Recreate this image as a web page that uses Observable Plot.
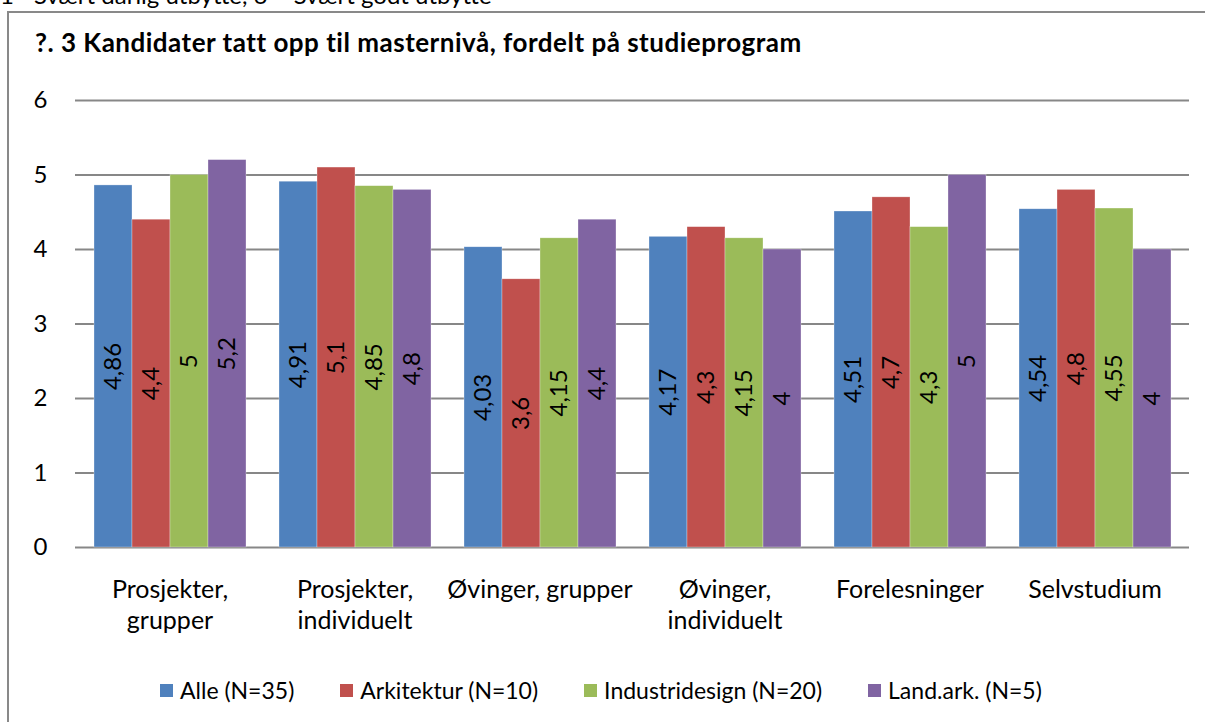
<!DOCTYPE html>
<html>
<head>
<meta charset="utf-8">
<script src="https://cdn.jsdelivr.net/npm/d3@7"></script>
<script src="https://cdn.jsdelivr.net/npm/@observablehq/plot@0.6"></script>
<style>
  html, body { margin: 0; padding: 0; width: 1205px; height: 722px; overflow: hidden; background: #fff; font-family: Lato, "Open Sans", sans-serif; }
  #top { position: absolute; left: 0; top: -17px; font-size: 24px; line-height: 24px; white-space: nowrap; color: #000; }
  #frame { position: absolute; left: 7px; top: 11px; width: 1300px; height: 800px; border: 2px solid #898989; box-sizing: border-box; }
  #title { position: absolute; left: 35px; top: 29px; font-size: 26px; letter-spacing: 0.5px; font-weight: bold; white-space: nowrap; color: #000; line-height: 26px; }
  .layer { position: absolute; left: 0; top: 70px; }
  #legend { position: absolute; left: 160px; top: 676px; display: flex; gap: 46px; font-size: 23px; line-height: 28px; white-space: nowrap; }
  .item { display: flex; align-items: center; gap: 7px; }
  .sw { width: 13px; height: 13px; display: inline-block; }
</style>
</head>
<body>
<div id="top">1= Svært dårlig utbytte, 6 = Svært godt utbytte</div>
<div id="frame"></div>
<div id="title">?. 3 Kandidater tatt opp til masternivå, fordelt på studieprogram</div>
<div id="grid" class="layer"></div>
<div id="chart" class="layer"></div>
<div id="legend"></div>
<script>
const categories = ["Prosjekter, grupper", "Prosjekter, individuelt", "Øvinger, grupper", "Øvinger, individuelt", "Forelesninger", "Selvstudium"];
const tickLabels = ["Prosjekter,\ngrupper", "Prosjekter,\nindividuelt", "Øvinger, grupper", "Øvinger,\nindividuelt", "Forelesninger", "Selvstudium"];
const series = ["Alle (N=35)", "Arkitektur (N=10)", "Industridesign (N=20)", "Land.ark. (N=5)"];
const colors = ["#4F81BD", "#C0504D", "#9BBB59", "#8064A2"];
const alle = [4.86, 4.91, 4.03, 4.17, 4.51, 4.54];
const arkitektur = [4.4, 5.1, 3.6, 4.3, 4.7, 4.8];
const industridesign = [5, 4.85, 4.15, 4.15, 4.3, 4.55];
const landark = [5.2, 4.8, 4.4, 4, 5, 4];
const yTicks = [0, 1, 2, 3, 4, 5, 6];

const seriesValues = [alle, arkitektur, industridesign, landark];
const data = [];
categories.forEach((c, i) => {
  series.forEach((s, j) => {
    data.push({category: c, series: s, value: seriesValues[j][i]});
  });
});
const fmt = v => String(v).replace(".", ",");

const common = {
  width: 1205,
  height: 572,
  marginLeft: 75,
  marginRight: 16,
  marginTop: 30,
  marginBottom: 95,
  style: {background: "none", fontFamily: "Lato, 'Open Sans', sans-serif", color: "#000"},
  y: {domain: [0, 6], label: null}
};

// Background layer: continuous gridlines and y axis
const gridPlot = Plot.plot({
  ...common,
  x: {axis: null},
  marks: [
    Plot.ruleY(yTicks, {stroke: "#878787", strokeWidth: 2, strokeOpacity: 1}),
    Plot.axisY({ticks: yTicks, tickFormat: d => String(d), tickSize: 0, tickPadding: 28, fontSize: 24, label: null})
  ]
});
document.getElementById("grid").appendChild(gridPlot);

// Foreground layer: grouped bars
const chart = Plot.plot({
  ...common,
  fx: {domain: categories, paddingInner: 0.16, paddingOuter: 0.08, label: null},
  x: {domain: series, axis: null, padding: 0},
  y: {domain: [0, 6], axis: null, label: null},
  color: {domain: series, range: colors},
  marks: [
    Plot.barY(data, {fx: "category", x: "series", y: "value", fill: "series", stroke: "#fff", strokeWidth: 0.6, strokeOpacity: 0.5}),
    Plot.text(data, {fx: "category", x: "series", y: d => d.value / 2, text: d => fmt(d.value), rotate: -90, fontSize: 24, fill: "#000"}),
    Plot.axisFx({anchor: "bottom", tickFormat: d => tickLabels[categories.indexOf(d)], tickSize: 0, tickPadding: 28, fontSize: 25, lineHeight: 1.25, label: null})
  ]
});
document.getElementById("chart").appendChild(chart);

const legend = document.getElementById("legend");
series.forEach((s, j) => {
  const item = document.createElement("div");
  item.className = "item";
  const sw = document.createElement("span");
  sw.className = "sw";
  sw.style.background = colors[j];
  const t = document.createElement("span");
  t.textContent = s;
  item.appendChild(sw);
  item.appendChild(t);
  legend.appendChild(item);
});
</script>
</body>
</html>
